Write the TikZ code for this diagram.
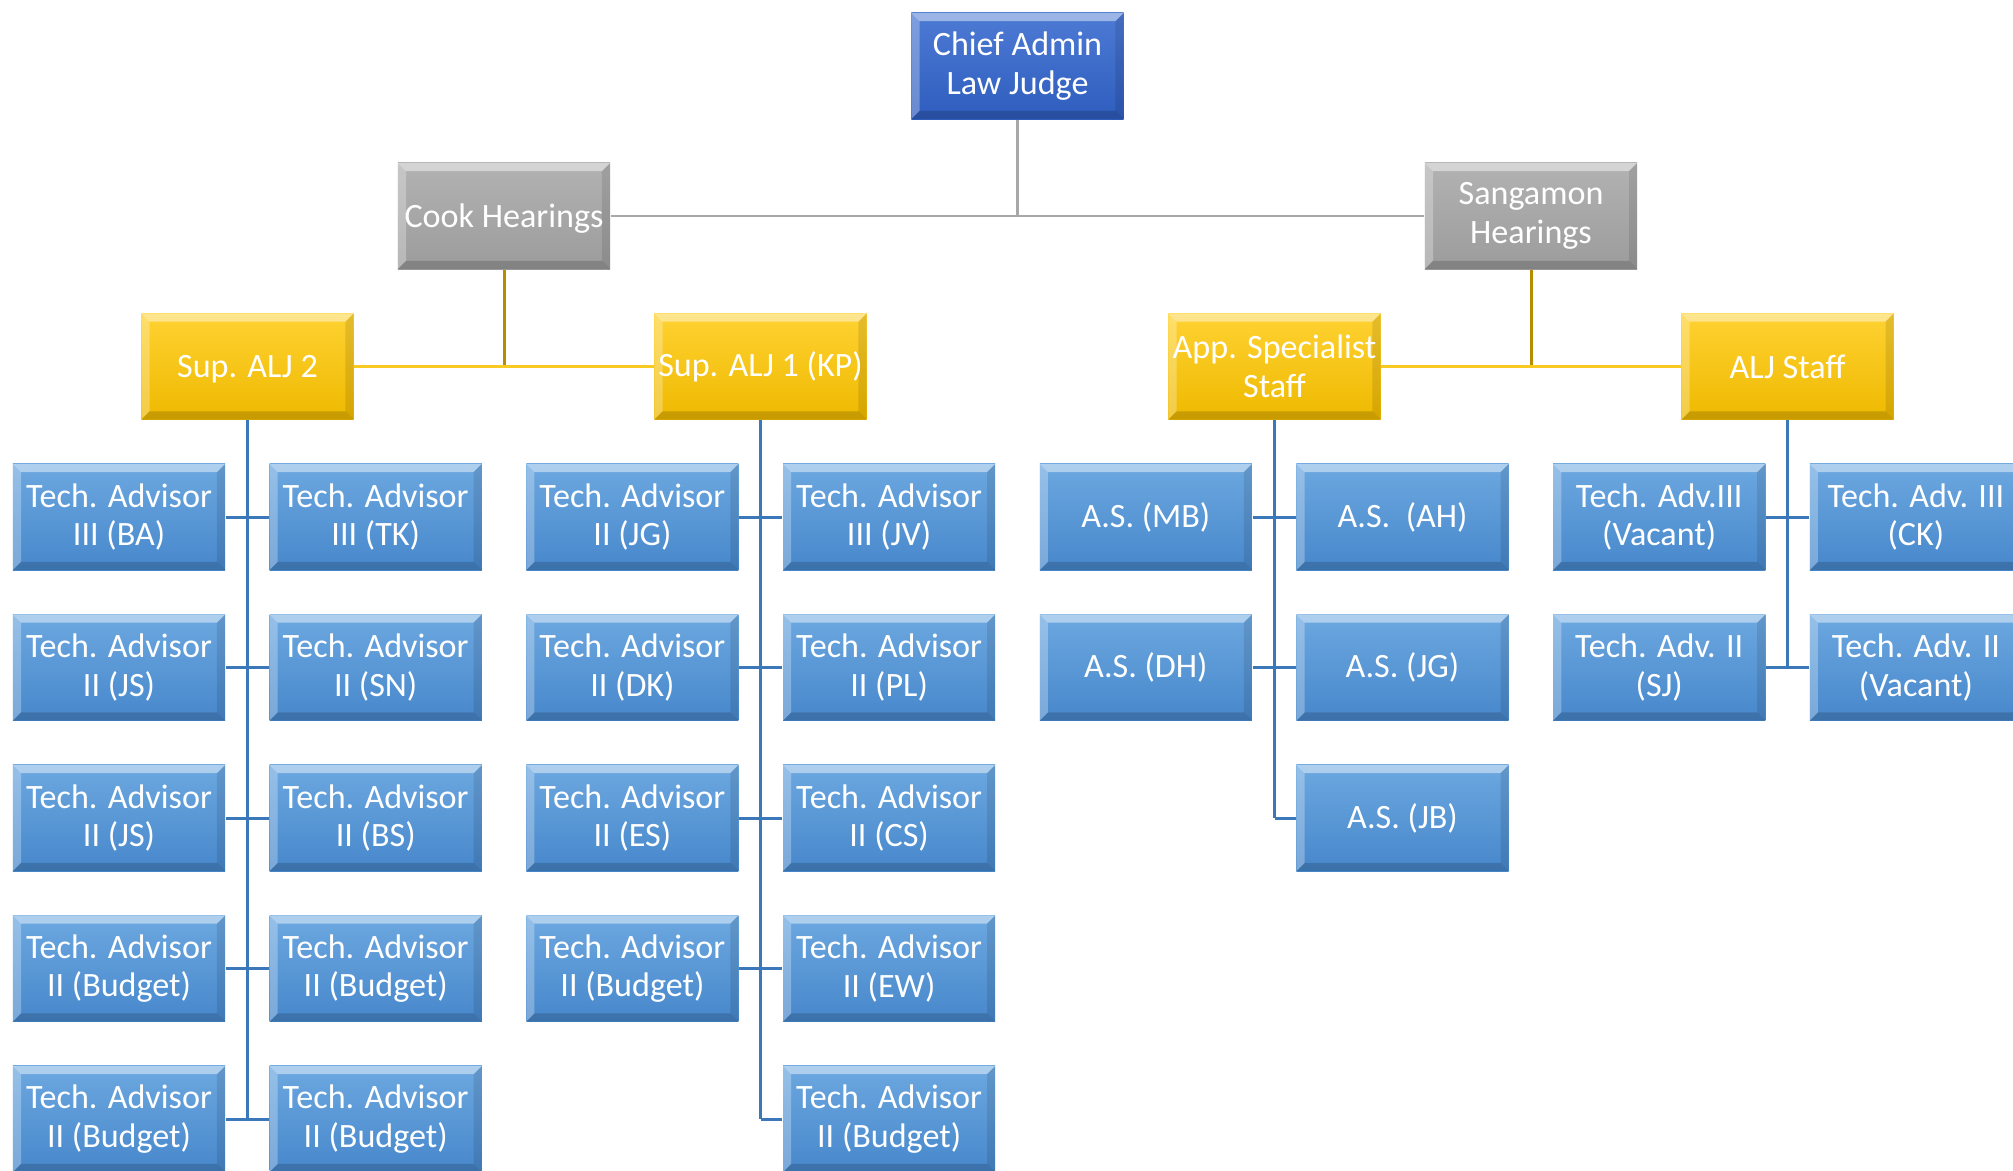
\documentclass[tikz,border=0pt]{standalone}
\usepackage{fontspec}
\setmainfont{Carlito}
\definecolor{chiefT}{HTML}{4C7AD4}
\definecolor{chiefB}{HTML}{2F5DBE}
\definecolor{greyT}{HTML}{B2B2B2}
\definecolor{greyB}{HTML}{9C9C9C}
\definecolor{yelT}{HTML}{FFD232}
\definecolor{yelB}{HTML}{EEB900}
\definecolor{bluT}{HTML}{6CA8E0}
\definecolor{bluB}{HTML}{4787CB}
\definecolor{greyLn}{HTML}{A8A8A8}
\definecolor{yelLn}{HTML}{F9CB22}
\definecolor{goldLn}{HTML}{B88C00}
\definecolor{bluLn}{HTML}{3B78B9}
\tikzset{
  bevel/.style={path picture={
    \fill[white,opacity=.45] (path picture bounding box.north west) -- (path picture bounding box.north east)
      -- ([xshift=-2.3pt,yshift=-2.3pt]path picture bounding box.north east) -- ([xshift=2.3pt,yshift=-2.3pt]path picture bounding box.north west) -- cycle;
    \fill[white,opacity=.28] (path picture bounding box.north west) -- (path picture bounding box.south west)
      -- ([xshift=2.3pt,yshift=2.3pt]path picture bounding box.south west) -- ([xshift=2.3pt,yshift=-2.3pt]path picture bounding box.north west) -- cycle;
    \fill[black,opacity=.10] (path picture bounding box.north east) -- (path picture bounding box.south east)
      -- ([xshift=-2.3pt,yshift=2.3pt]path picture bounding box.south east) -- ([xshift=-2.3pt,yshift=-2.3pt]path picture bounding box.north east) -- cycle;
    \fill[black,opacity=.16] (path picture bounding box.south west) -- (path picture bounding box.south east)
      -- ([xshift=-2.3pt,yshift=2.3pt]path picture bounding box.south east) -- ([xshift=2.3pt,yshift=2.3pt]path picture bounding box.south west) -- cycle;
  }},
  box/.style={rectangle, minimum width=2.12cm, minimum height=1.06cm, inner sep=0pt,
    text=white, align=center, font=\fontsize{9.7}{11}\selectfont, bevel},
  chiefbox/.style={box, top color=chiefT, bottom color=chiefB},
  greybox/.style={box, top color=greyT, bottom color=greyB},
  yelbox/.style={box, top color=yelT, bottom color=yelB},
  blubox/.style={box, top color=bluT, bottom color=bluB},
  greyline/.style={draw=greyLn, line width=0.85pt},
  yelline/.style={draw=yelLn, line width=0.85pt},
  goldline/.style={draw=goldLn, line width=0.85pt},
  bluline/.style={draw=bluLn, line width=0.85pt},
}
\begin{document}
\begin{tikzpicture}[x=0.01cm,y=-0.01cm]
\useasboundingbox (0,0) rectangle (2013,1170);
\clip (0,0) rectangle (2013,1170);
\fill[white] (0,0) rectangle (2013,1170);

% top levels
\node[chiefbox] (chief) at (1017.5,66) {Chief Admin\\Law Judge};
\node[greybox, text depth=0pt] (cook) at (504,216) {Cook Hearings};
\node[greybox] (sang) at (1531,216) {Sangamon\\Hearings};
\node[yelbox, text depth=0pt] (s2) at (247.5,366.5) {Sup. ALJ 2};
\node[yelbox] (s1) at (760.5,366.5) {Sup. ALJ 1 (KP)};
\node[yelbox] (app) at (1274.5,366.5) {App. Specialist\\Staff};
\node[yelbox] (alj) at (1787.5,366.5) {ALJ Staff};

% column 0
\node[blubox] (a1) at (119,517) {Tech. Advisor\\III (BA)};
\node[blubox] (a2) at (119,667.5) {Tech. Advisor\\II (JS)};
\node[blubox] (a3) at (119,818) {Tech. Advisor\\II (JS)};
\node[blubox] (a4) at (119,968.5) {Tech. Advisor\\II (Budget)};
\node[blubox] (a5) at (119,1119) {Tech. Advisor\\II (Budget)};
% column 1
\node[blubox] (b1) at (375.7,517) {Tech. Advisor\\III (TK)};
\node[blubox] (b2) at (375.7,667.5) {Tech. Advisor\\II (SN)};
\node[blubox] (b3) at (375.7,818) {Tech. Advisor\\II (BS)};
\node[blubox] (b4) at (375.7,968.5) {Tech. Advisor\\II (Budget)};
\node[blubox] (b5) at (375.7,1119) {Tech. Advisor\\II (Budget)};
% column 2
\node[blubox] (c1) at (632.4,517) {Tech. Advisor\\II (JG)};
\node[blubox] (c2) at (632.4,667.5) {Tech. Advisor\\II (DK)};
\node[blubox] (c3) at (632.4,818) {Tech. Advisor\\II (ES)};
\node[blubox] (c4) at (632.4,968.5) {Tech. Advisor\\II (Budget)};
% column 3
\node[blubox] (d1) at (889.1,517) {Tech. Advisor\\III (JV)};
\node[blubox] (d2) at (889.1,667.5) {Tech. Advisor\\II (PL)};
\node[blubox] (d3) at (889.1,818) {Tech. Advisor\\II (CS)};
\node[blubox] (d4) at (889.1,968.5) {Tech. Advisor\\II (EW)};
\node[blubox] (d5) at (889.1,1119) {Tech. Advisor\\II (Budget)};
% column 4
\node[blubox] (e1) at (1145.8,517) {A.S. (MB)};
\node[blubox] (e2) at (1145.8,667.5) {A.S. (DH)};
% column 5
\node[blubox] (f1) at (1402.5,517) {A.S.~~(AH)};
\node[blubox] (f2) at (1402.5,667.5) {A.S. (JG)};
\node[blubox] (f3) at (1402.5,818) {A.S. (JB)};
% column 6
\node[blubox] (g1) at (1659.2,517) {Tech. Adv.III\\(Vacant)};
\node[blubox] (g2) at (1659.2,667.5) {Tech. Adv. II\\(SJ)};
% column 7
\node[blubox] (h1) at (1915.9,517) {Tech. Adv. III\\(CK)};
\node[blubox] (h2) at (1915.9,667.5) {Tech. Adv. II\\(Vacant)};

% connectors: level 1
\draw[greyline] (chief.south) -- (chief.south |- cook.east);
\draw[greyline] (cook.east) -- (sang.west);
% level 2
\draw[goldline] (cook.south) -- (cook.south |- s2.east);
\draw[yelline] (s2.east) -- (s1.west);
\draw[goldline] (sang.south) -- (sang.south |- app.east);
\draw[yelline] (app.east) -- (alj.west);
% Sup ALJ 2
\draw[bluline] (s2.south) -- (s2.south |- a5.east);
\foreach \l/\r in {a1/b1,a2/b2,a3/b3,a4/b4,a5/b5} \draw[bluline] (\l.east) -- (\r.west);
% Sup ALJ 1
\draw[bluline] (s1.south) -- (s1.south |- d5.west);
\foreach \l/\r in {c1/d1,c2/d2,c3/d3,c4/d4} \draw[bluline] (\l.east) -- (\r.west);
\draw[bluline] (s1.south |- d5.west) -- (d5.west);
% App. Specialist
\draw[bluline] (app.south) -- (app.south |- f3.west);
\foreach \l/\r in {e1/f1,e2/f2} \draw[bluline] (\l.east) -- (\r.west);
\draw[bluline] (app.south |- f3.west) -- (f3.west);
% ALJ Staff
\draw[bluline] (alj.south) -- (alj.south |- h2.west);
\foreach \l/\r in {g1/h1,g2/h2} \draw[bluline] (\l.east) -- (\r.west);
\end{tikzpicture}
\end{document}
